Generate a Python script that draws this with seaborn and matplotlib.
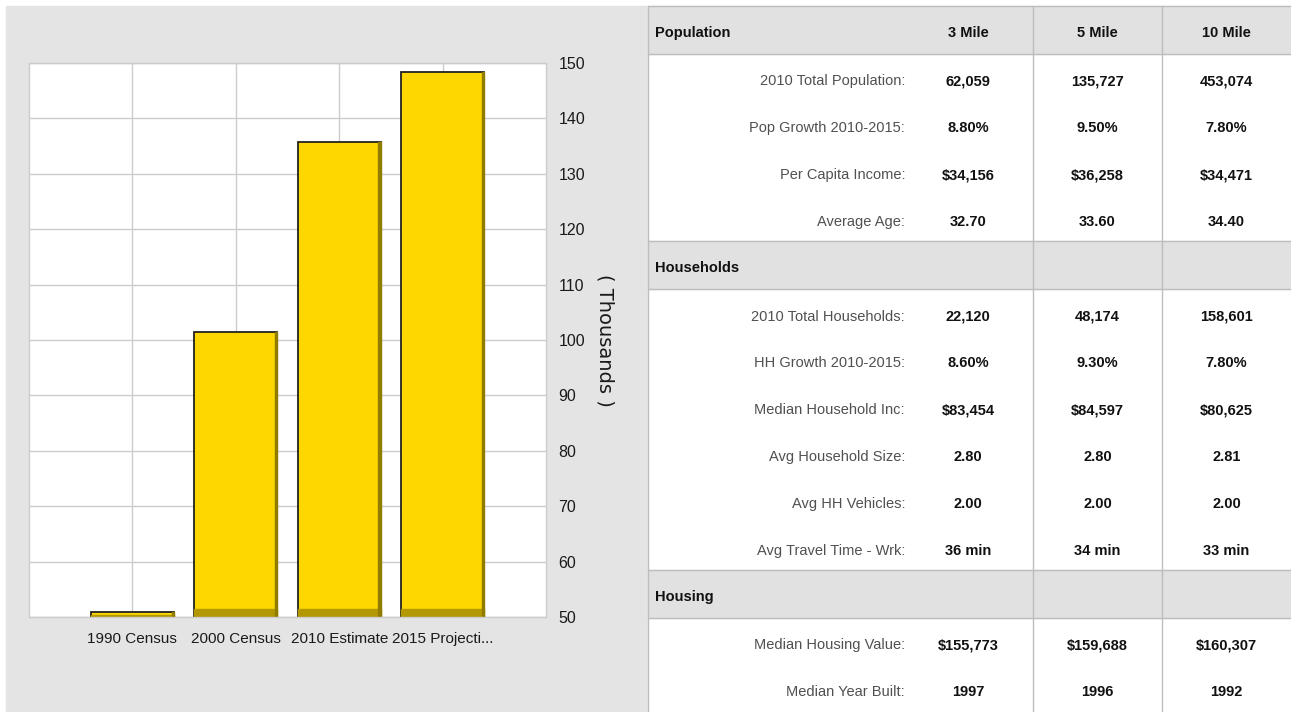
import numpy as np
import pandas as pd
import matplotlib
matplotlib.use('Agg')
import matplotlib.pyplot as plt
from matplotlib.patches import Rectangle
import seaborn as sns

# ---------------- data ----------------
years = ['1990 Census', '2000 Census', '2010 Estimate', '2015 Projecti...']
population_k = [50.9, 101.5, 135.7, 148.4]   # population within 5 miles, thousands
y_ticks = [50, 60, 70, 80, 90, 100, 110, 120, 130, 140, 150]

radius_cols = ['3 Mile', '5 Mile', '10 Mile']

pop_labels = ['2010 Total Population:', 'Pop Growth 2010-2015:', 'Per Capita Income:', 'Average Age:']
pop_3mi = ['62,059', '8.80%', '$34,156', '32.70']
pop_5mi = ['135,727', '9.50%', '$36,258', '33.60']
pop_10mi = ['453,074', '7.80%', '$34,471', '34.40']

hh_labels = ['2010 Total Households:', 'HH Growth 2010-2015:', 'Median Household Inc:',
             'Avg Household Size:', 'Avg HH Vehicles:', 'Avg Travel Time - Wrk:']
hh_3mi = ['22,120', '8.60%', '$83,454', '2.80', '2.00', '36 min']
hh_5mi = ['48,174', '9.30%', '$84,597', '2.80', '2.00', '34 min']
hh_10mi = ['158,601', '7.80%', '$80,625', '2.81', '2.00', '33 min']

housing_labels = ['Median Housing Value:', 'Median Year Built:']
housing_3mi = ['$155,773', '1997']
housing_5mi = ['$159,688', '1996']
housing_10mi = ['$160,307', '1992']

sections = [
    ('Population', pop_labels, [pop_3mi, pop_5mi, pop_10mi]),
    ('Households', hh_labels, [hh_3mi, hh_5mi, hh_10mi]),
    ('Housing', housing_labels, [housing_3mi, housing_5mi, housing_10mi]),
]

# ---------------- style ----------------
sns.set_theme(style='white')
plt.rcParams['font.family'] = ['Liberation Sans', 'DejaVu Sans']

W, H = 1291, 712
PANEL = '#E4E4E4'
GRID = '#CCCCCC'
GOLD = '#FFD700'

fig = plt.figure(figsize=(W / 100, H / 100), dpi=100)
fig.patch.set_facecolor('white')

# gray panel behind the chart
fig.add_artist(Rectangle((6 / W, 0), (648 - 6) / W, (H - 6) / H,
                         transform=fig.transFigure, color=PANEL, zorder=0))

# ---------------- bar chart ----------------
ax = fig.add_axes([29 / W, 1 - 617 / H, 517 / W, 554 / H])
ax.set_facecolor('white')
sns.barplot(x=years, y=population_k, color=GOLD, saturation=1, width=0.8,
            edgecolor='#222222', linewidth=1.3, ax=ax)

ax.set_xlim(-1, 4)
ax.set_ylim(50, 150)
ax.set_yticks(y_ticks)
ax.yaxis.tick_right()
ax.tick_params(axis='both', length=0, colors='#1a1a1a')
ax.tick_params(axis='y', pad=9, labelsize=11.5)
ax.tick_params(axis='x', pad=11, labelsize=11)
ax.grid(True, color=GRID, linewidth=1)
ax.set_axisbelow(True)
for s in ax.spines.values():
    s.set_color(GRID)
    s.set_linewidth(1)

# 3D-ish dark bottom band and right shade on each bar
for p in list(ax.patches):
    x0, w, top = p.get_x(), p.get_width(), p.get_height()
    band = min(1.45, (top - 50) * 0.35)
    ax.add_patch(Rectangle((x0, 50), w, band, color='#B39800', zorder=p.get_zorder() + 0.1))
    ax.add_patch(Rectangle((x0 + w * 0.975, 50), w * 0.025, top - 50,
                           color='#8F7C00', zorder=p.get_zorder() + 0.1))

ax.set_xlabel('')
ax.yaxis.set_label_position('right')
ax.set_ylabel('( Thousands )', rotation=270, fontsize=14, labelpad=21,
              family=['DejaVu Sans'], color='#1a1a1a')

# ---------------- table ----------------
tax = fig.add_axes([640 / W, 0, (W - 640) / W, 1])
tax.set_xlim(640, W)
tax.set_ylim(H, 0)
tax.axis('off')

left, c1, c2, right = 648, 1033, 1162, W
top = 6
head_h, row_h = 48, 46.8
label_x = 905
val_x = [968, (c1 + c2) / 2, (c2 + right) / 2]
fs = 10.5

tax.add_patch(Rectangle((left, top), right - left, H - top, color='white', zorder=0))

y = top
for si, (title, labels, cols) in enumerate(sections):
    tax.add_patch(Rectangle((left, y), right - left, head_h, color='#E1E1E1', zorder=1))
    tax.plot([left, right], [y, y], color='#BDBDBD', lw=1, zorder=2)
    tax.plot([left, right], [y + head_h, y + head_h], color='#BDBDBD', lw=1, zorder=2)
    tax.text(655, y + head_h / 2 + 3, title, ha='left', va='center',
             fontsize=fs, fontweight='bold', color='#111111', zorder=3)
    if si == 0:
        for cx, name in zip(val_x, radius_cols):
            tax.text(cx, y + head_h / 2 + 3, name, ha='center', va='center',
                     fontsize=fs, fontweight='bold', color='#111111', zorder=3)
    y += head_h
    for ri, lab in enumerate(labels):
        cy = y + row_h / 2 + 4
        tax.text(label_x, cy, lab, ha='right', va='center', fontsize=fs,
                 color='#505050', zorder=3)
        for cx, col in zip(val_x, cols):
            tax.text(cx, cy, col[ri], ha='center', va='center', fontsize=fs,
                     fontweight='bold', color='#111111', zorder=3)
        y += row_h

for x in (left, c1, c2):
    tax.plot([x, x], [top, H], color='#BDBDBD', lw=1, zorder=2)

fig.savefig('out.png', dpi=100, facecolor=fig.get_facecolor())
